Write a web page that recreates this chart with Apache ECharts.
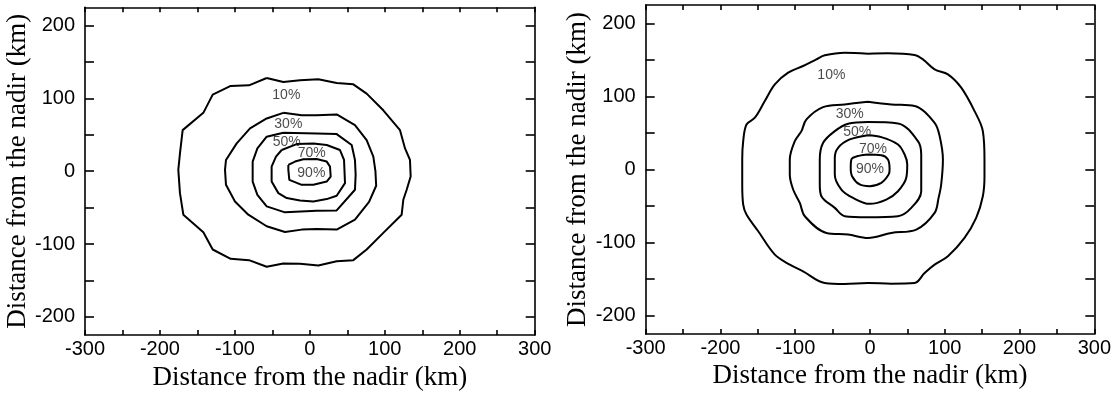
<!DOCTYPE html>
<html>
<head>
<meta charset="utf-8">
<script src="https://cdn.jsdelivr.net/npm/echarts@6/dist/echarts.min.js"></script>
<style>
html,body{margin:0;padding:0;background:#fff;}
#chart{width:1114px;height:396px;}
</style>
</head>
<body>
<div id="chart"></div>
<script>
// ---- data (km) ----
const xTicks = [-300,-250,-200,-150,-100,-50,0,50,100,150,200,250,300];
const xLabels = [-300,-200,-100,0,100,200,300];
const yTicks = [-200,-150,-100,-50,0,50,100,150,200];
const yLabels = [-200,-100,0,100,200];
const axisTitle = 'Distance from the nadir (km)';

// left panel contours (straight segments)
const left10 = [[-57.6,127.9],[-35.4,122.4],[-13.1,124.7],[11.3,126.1],[35.8,121.1],[58.0,119.2],[75.8,106.5],[98.0,83.6],[120.3,56.3],[127.0,31.3],[133.6,15.4],[134.5,-7.3],[129.2,-25.5],[124.7,-39.2],[122.5,-59.7],[98.0,-84.7],[75.8,-107.5],[58.0,-122.1],[35.8,-123.5],[11.3,-129.4],[-13.1,-127.1],[-35.4,-126.6],[-57.6,-131.2],[-81.2,-122.1],[-105.6,-120.3],[-129.6,-107.5],[-142.1,-83.8],[-168.8,-59.7],[-173.3,-30.1],[-175.5,1.8],[-173.3,24.5],[-169.7,56.4],[-142.1,80.1],[-129.6,105.1],[-105.6,117.0],[-81.2,117.9],[-57.6,127.9]];
const left30 = [[-35.4,80.1],[-10.9,76.9],[9.1,76.9],[35.8,77.9],[60.2,63.3],[75.8,42.8],[84.7,19.9],[87.5,0],[88.5,-20.0],[79.0,-42.0],[60.2,-66.5],[35.8,-80.2],[9.1,-79.3],[-10.9,-80.2],[-33.2,-83.4],[-57.6,-75.6],[-82.1,-59.7],[-99.9,-41.5],[-111.9,-18.7],[-113.2,1.8],[-111.9,15.4],[-97.6,38.2],[-79.8,58.7],[-57.6,72.4],[-35.4,80.1]];
const left50 = [[-35.4,52.7],[9.1,51.8],[35.8,50.9],[55.8,35.9],[60.2,15.4],[61.1,-5],[60.2,-25.5],[35.8,-53.8],[9.1,-54.2],[-33.2,-56.5],[-57.6,-48.3],[-70.0,-32.4],[-76.3,-14.2],[-76.3,13.2],[-70.0,31.4],[-57.6,47.3],[-35.4,52.7]];
const left70 = [[-37.6,29.1],[-17.6,37.2],[4.7,38.1],[22.5,35.9],[40.2,29.1],[45.6,15.4],[46.9,-16.4],[35.8,-33.7],[22.5,-38.3],[4.7,-41.5],[-13.1,-40.1],[-30.9,-36.9],[-42.0,-30.1],[-51.0,-14.2],[-51.0,6.3],[-45.2,19.9],[-37.6,29.1]];
const left90 = [[-28.7,8.6],[-19.8,13.2],[-8.7,16.3],[9.1,16.8],[22.5,13.2],[26.9,6.3],[27.8,-7.3],[22.5,-14.2],[4.7,-18.7],[-10.9,-18.7],[-27.4,-11.9],[-28.7,1.8],[-28.7,8.6]];
const leftLabels = [[-31.4,103.8,'10%'],[-28.7,64.5,'30%'],[-30.9,40.5,'50%'],[2.4,24.5,'70%'],[2.0,-2.0,'90%']];

// right panel contours (smooth)
const right10 = [[-2.7,158.4],[24.0,158.9],[59.6,156.6],[70.8,150.7],[86.4,137.0],[104.2,130.1],[122.0,111.9],[139.8,79.9],[150.9,52.5],[153.1,13.7],[153.1,-10],[150.9,-36.5],[142.0,-66.2],[126.4,-93.6],[104.2,-118.7],[86.4,-130.1],[73.0,-141.6],[59.6,-155.3],[28.5,-156.2],[-2.7,-155.3],[-33.8,-156.6],[-60.5,-155.3],[-89.5,-139.3],[-107.3,-130.1],[-127.3,-116.4],[-149.5,-84.5],[-165.2,-61.6],[-169.6,-47.9],[-170.9,-20.5],[-170.9,13.7],[-169.6,38.8],[-165.2,61.6],[-154.0,70.8],[-140.7,93.6],[-127.3,116.4],[-109.5,132.4],[-89.5,141.6],[-71.7,150.7],[-60.5,156.2],[-33.8,159.8],[-2.7,158.4]];
const right30 = [[-2.7,92.7],[28.5,89.0],[59.6,86.8],[86.4,63.9],[93.1,45.7],[97.5,13.7],[95.2,-20.5],[91.7,-38.8],[86.4,-59.4],[61.9,-82.2],[28.5,-86.8],[-2.7,-93.6],[-29.4,-89.0],[-58.3,-86.8],[-87.2,-63.9],[-93.9,-45.7],[-102.8,-27.4],[-107.3,-6.8],[-107.3,13.7],[-100.6,38.8],[-91.7,52.5],[-85.0,68.5],[-62.8,85.4],[-33.8,89.0],[-2.7,92.7]];
const right50 = [[-2.7,64.8],[37.4,63.0],[64.1,38.8],[68.5,20.5],[68.5,-29.7],[55.2,-52.5],[37.4,-63.9],[-2.7,-65.3],[-33.8,-63.9],[-47.1,-52.5],[-65.0,-36.5],[-67.2,-20.5],[-67.2,13.7],[-62.7,36.5],[-47.1,52.5],[-29.4,62.6],[-2.7,64.8]];
const right70 = [[-2.7,47.0],[15.1,44.3],[37.4,34.2],[46.3,20.5],[49.8,6.8],[48.5,-11.4],[37.4,-29.7],[21.8,-41.1],[-0.5,-47.0],[-22.7,-38.8],[-38.3,-27.4],[-47.1,-6.8],[-47.1,15.9],[-42.7,29.7],[-27.2,41.1],[-2.7,47.0]];
const right90 = [[-2.7,20.5],[15.1,19.6],[24.0,13.7],[26.2,0],[24.9,-6.8],[15.1,-18.3],[-0.5,-22.8],[-13.8,-20.5],[-24.0,-9.1],[-25.8,2],[-24.9,13.7],[-14.0,19.0],[-2.7,20.5]];
const rightLabels = [[-51.7,129.2,'10%'],[-27.2,75.3,'30%'],[-17.0,51.6,'50%'],[4.0,28.3,'70%'],[0,0,'90%']];

// ---- chart ----
const chart = echarts.init(document.getElementById('chart'), null, {renderer:'canvas'});
const SANS = '"Liberation Sans", Arial, Helvetica, sans-serif';
const SERIF = '"Liberation Serif", "Times New Roman", serif';
const lineStyle = {color:'#000', width:1.6};

function xAxisPair(gi){
  return [
    {gridIndex:gi, type:'value', position:'bottom', min:-300, max:300, interval:50,
     axisLine:{show:true, onZero:false, lineStyle:lineStyle},
     axisTick:{show:true, inside:true, length:5, customValues:xTicks, lineStyle:lineStyle},
     axisLabel:{show:true, customValues:xLabels, margin:4, fontSize:20, fontFamily:SANS, color:'#000'},
     splitLine:{show:false},
     name:axisTitle, nameLocation:'middle', nameGap:25,
     nameTextStyle:{fontFamily:SERIF, fontSize:27, color:'#000'}},
    {gridIndex:gi, type:'value', position:'top', min:-300, max:300, interval:50,
     axisLine:{show:true, onZero:false, lineStyle:lineStyle},
     axisTick:{show:true, inside:true, length:5, customValues:xTicks, lineStyle:lineStyle},
     axisLabel:{show:false}, splitLine:{show:false}}
  ];
}
function yAxisPair(gi, gap){
  return [
    {gridIndex:gi, type:'value', position:'left', min:-225, max:225,
     axisLine:{show:true, onZero:false, lineStyle:lineStyle},
     axisTick:{show:true, inside:true, length:9, customValues:yTicks, lineStyle:lineStyle},
     axisLabel:{show:true, customValues:yLabels, margin:10, fontSize:20, fontFamily:SANS, color:'#000'},
     splitLine:{show:false},
     name:axisTitle, nameLocation:'middle', nameGap:gap, nameRotate:90,
     nameTextStyle:{fontFamily:SERIF, fontSize:27, color:'#000'}},
    {gridIndex:gi, type:'value', position:'right', min:-225, max:225,
     axisLine:{show:true, onZero:false, lineStyle:lineStyle},
     axisTick:{show:true, inside:true, length:9, customValues:yTicks, lineStyle:lineStyle},
     axisLabel:{show:false}, splitLine:{show:false}}
  ];
}

function contour(data, xi, yi, smooth){
  return {type:'line', xAxisIndex:xi, yAxisIndex:yi, data:data, showSymbol:false, symbol:'none',
          smooth:smooth, lineStyle:{color:'#000', width:2}, silent:true, animation:false, z:3};
}
function labels(list, xi, yi){
  return {type:'scatter', xAxisIndex:xi, yAxisIndex:yi, symbolSize:0, silent:true, animation:false, z:4,
    data:list.map(d=>({value:[d[0],d[1]], name:d[2]})),
    label:{show:true, position:'inside', formatter:p=>p.name, fontFamily:SANS, fontSize:14, color:'#1a1a1a'}};
}

const option = {
  backgroundColor:'#fff',
  animation:false,
  grid:[
    {left:85, top:7.3, width:449.7, height:329.4},
    {left:645.7, top:5, width:449.3, height:329}
  ],
  xAxis:[...xAxisPair(0), ...xAxisPair(1)],
  yAxis:[...yAxisPair(0, 44), ...yAxisPair(1, 54)],
  series:[
    contour(left10,0,0,false), contour(left30,0,0,false), contour(left50,0,0,false),
    contour(left70,0,0,false), contour(left90,0,0,false),
    labels(leftLabels,0,0),
    contour(right10,2,2,0.35), contour(right30,2,2,0.35), contour(right50,2,2,0.35),
    contour(right70,2,2,0.35), contour(right90,2,2,0.35),
    labels(rightLabels,2,2)
  ]
};
chart.setOption(option);
</script>
</body>
</html>
